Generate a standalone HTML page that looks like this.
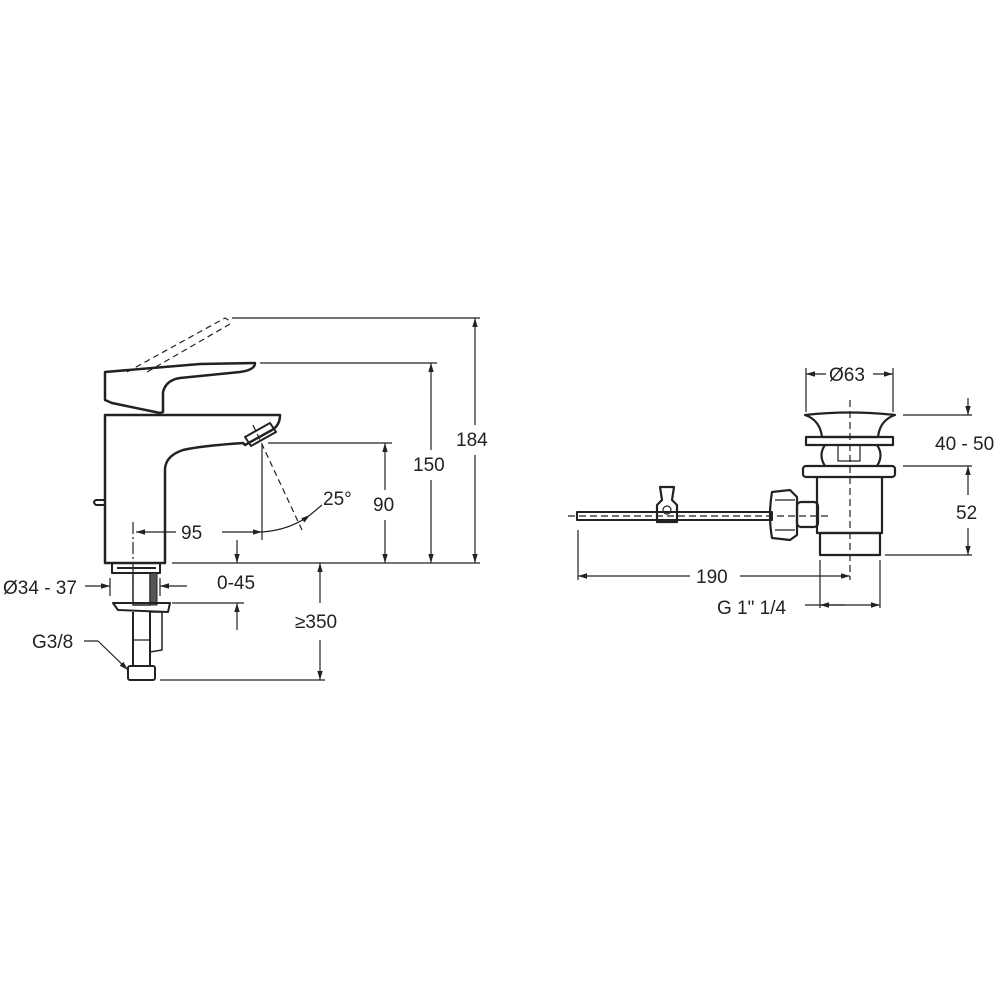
<!DOCTYPE html>
<html><head><style>html,body{margin:0;padding:0;background:#fff}svg{display:block}text{font-family:"Liberation Sans",Arial,sans-serif;font-size:19px;fill:#222}</style></head>
<body>
<svg width="1000" height="1000" viewBox="0 0 1000 1000" xmlns="http://www.w3.org/2000/svg">
<defs>
<marker id="a" viewBox="0 0 10 10" refX="10" refY="5" markerWidth="9" markerHeight="9" orient="auto-start-reverse" markerUnits="userSpaceOnUse"><path d="M0,2 L10,5 L0,8 z" fill="#222"/></marker>
</defs>
<g fill="none" stroke="#222" stroke-linejoin="round">
<g stroke-width="2.5">
<path d="M105,372 L105,400 L112,403 L160,413 L163,412 L163,392 Q166,380 180,378 L240,372 Q255,370 255,363 L200,364 Z"/>
<path d="M105,415 L280,415 Q280,425 272,430 L245,445 L243,443 Q200,446 183,450 Q165,456 165,470 L165,563 L105,563 Z"/>
<path d="M245,437 L270,423 L276,432 L251,446 Z" stroke-width="2"/>
<path d="M105,500 L96,500 Q92,502 96,505 L105,505" stroke-width="2"/>
</g>
<g stroke-width="1.2" stroke-dasharray="6,4">
<path d="M127,372 L225,318 L230,321"/>
<path d="M147,372 L230,324"/>
<path d="M253,425 L302,530"/>
</g>
<path d="M133,522 L133,580" stroke-width="1.2" stroke-dasharray="12,3,2,3"/>
<g stroke-width="1.2">
<path d="M262,445 L262,540"/>
<path d="M136,532 L176,532 M222,532 L262,532" marker-start="url(#a)" marker-end="url(#a)"/>
<path d="M262,532 Q290,530 310,515" marker-end="url(#a)"/>
<path d="M310,515 L322,505"/>
<path d="M268,443 L392,443"/>
<path d="M385,443 L385,490 M385,520 L385,563" marker-start="url(#a)" marker-end="url(#a)"/>
<path d="M260,363 L437,363"/>
<path d="M431,363 L431,450 M431,480 L431,563" marker-start="url(#a)" marker-end="url(#a)"/>
<path d="M232,318 L480,318"/>
<path d="M475,318 L475,425 M475,455 L475,563" marker-start="url(#a)" marker-end="url(#a)"/>
<path d="M172,563 L480,563"/>
<path d="M237,540 L237,563" marker-end="url(#a)"/>
<path d="M237,630 L237,603" marker-end="url(#a)"/>
<path d="M172,603 L244,603"/>
<path d="M320,603 L320,563" marker-end="url(#a)"/>
<path d="M320,640 L320,680" marker-end="url(#a)"/>
<path d="M160,680 L325,680"/>
<path d="M85,586 L110,586" marker-end="url(#a)"/>
<path d="M187,586 L160,586" marker-end="url(#a)"/>
<path d="M110,578 L110,596 M160,578 L160,596"/>
<path d="M84,641 L98,641 L128,670" marker-end="url(#a)"/>
</g>
<g stroke-width="2">
<rect x="112" y="563" width="48" height="10"/>
<path d="M117,568 L156,568"/>
<rect x="133" y="573" width="17" height="32" stroke-width="1.5"/>
<rect x="150" y="573" width="7" height="32" fill="#555" stroke-width="1"/>
<path d="M113,603 L170,603 L168,612 L118,610 Z"/>
<path d="M133,612 L133,665 M150,612 L150,665"/>
<path d="M150,612 L162,612 L162,650 L150,652" stroke-width="1.5"/>
<path d="M133,640 L150,640" stroke-width="1.2"/>
<rect x="128" y="666" width="27" height="14" rx="2"/>
</g>
<g stroke-width="2.2">
<path d="M805,415 Q850,410 895,415 Q880,420 878,437 L822,437 Q820,420 805,415 Z"/>
<rect x="806" y="437" width="87" height="8"/>
<path d="M825,445 Q818,455 825,466 M877,445 Q884,455 877,466"/>
<rect x="838" y="445" width="22" height="16" stroke-width="1.2"/>
<rect x="803" y="466" width="92" height="11" rx="3"/>
<path d="M817,477 L817,533 L882,533 L882,477"/>
<rect x="820" y="533" width="60" height="22"/>
<rect x="797" y="502" width="21" height="25" rx="4"/>
<path d="M772,492 L790,490 L797,497 L797,535 L790,540 L772,538 Q768,515 772,492 Z"/>
<path d="M775,500 L795,500 M775,530 L795,530" stroke-width="1.2"/>
<rect x="577" y="512" width="195" height="8" stroke-width="2"/>
<path d="M660,487 L674,487 L672,500 L677,505 L677,522 L657,522 L657,505 L662,500 Z"/>
<circle cx="667" cy="510" r="4" stroke-width="1.2"/>
</g>
<g stroke-width="1.2" stroke-dasharray="7,4">
<path d="M850,400 L850,580"/>
<path d="M568,516 L830,516"/>
</g>
<g stroke-width="1.2">
<path d="M806,368 L806,412 M893,368 L893,412"/>
<path d="M826,374 L806,374" marker-end="url(#a)"/>
<path d="M873,374 L893,374" marker-end="url(#a)"/>
<path d="M903,415 L972,415 M903,466 L972,466"/>
<path d="M968,398 L968,415" marker-end="url(#a)"/>
<path d="M968,466 L968,495 M968,528 L968,555" marker-start="url(#a)" marker-end="url(#a)"/>
<path d="M885,555 L972,555"/>
<path d="M578,530 L578,580"/>
<path d="M578,576 L690,576 M740,576 L850,576" marker-start="url(#a)" marker-end="url(#a)"/>
<path d="M820,560 L820,608 M880,560 L880,608"/>
<path d="M805,605 L880,605" marker-end="url(#a)"/>
<path d="M845,605 L820,605" marker-end="url(#a)"/>
</g>
</g>
<text x="181" y="539">95</text>
<text x="323" y="505">25°</text>
<text x="373" y="511">90</text>
<text x="413" y="471">150</text>
<text x="456" y="446">184</text>
<text x="3" y="594">Ø34 - 37</text>
<text x="217" y="589">0-45</text>
<text x="295" y="628">≥350</text>
<text x="32" y="648">G3/8</text>
<text x="829" y="381">Ø63</text>
<text x="935" y="450">40 - 50</text>
<text x="956" y="519">52</text>
<text x="696" y="583">190</text>
<text x="717" y="614">G 1" 1/4</text>
</svg>
</body></html>
